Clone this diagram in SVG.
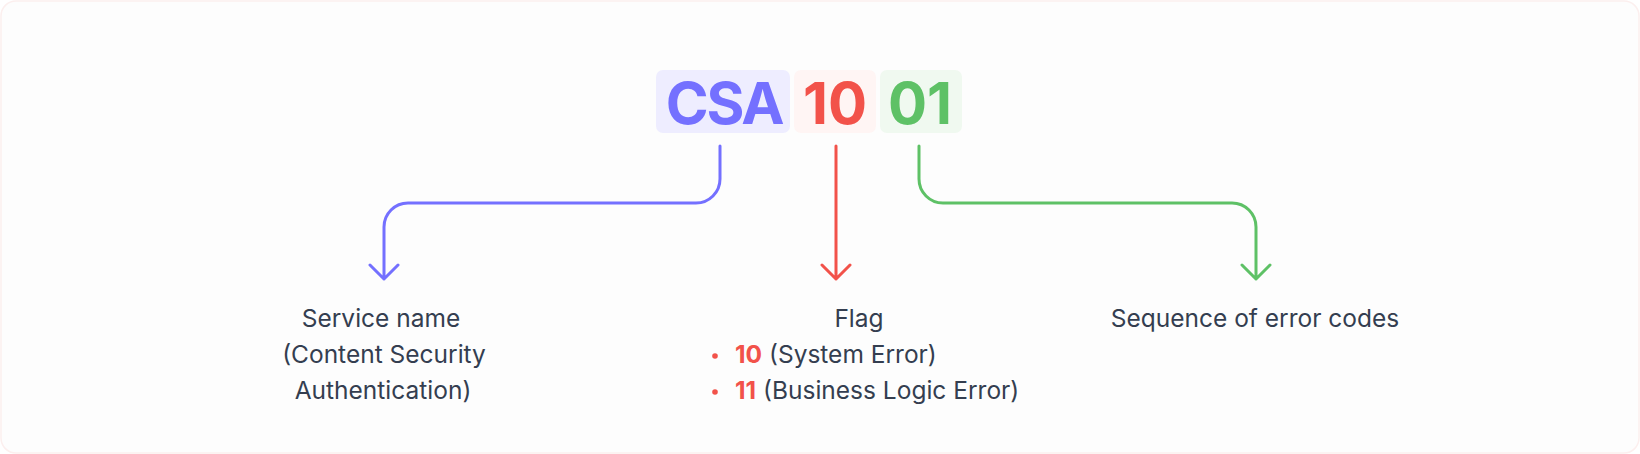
<svg xmlns="http://www.w3.org/2000/svg" width="1640" height="454" viewBox="0 0 1640 454">
<style>
.t{font-family:Inter,"Noto Sans","Liberation Sans",sans-serif;font-size:24.5px;fill:#343e50}
.big{font-family:Inter,"Noto Sans","Liberation Sans",sans-serif;font-size:58px;font-weight:700;text-anchor:middle}
.c{fill:none;stroke-width:3;stroke-linecap:round;stroke-linejoin:round}
.red{fill:#f2524a;font-weight:700}
</style>
<rect x="1" y="1" width="1638" height="452" rx="15" fill="#fdfdfd" stroke="#fcefee" stroke-width="1.5"/>
<g id="csa">
<rect x="656" y="70" width="134" height="63" rx="7" fill="#eeedff"/>
<text class="big" x="724" y="124" fill="#7470ff" letter-spacing="-2.3">CSA</text>
</g>
<g id="flag-code">
<rect x="794" y="70" width="82" height="63" rx="7" fill="#fff5f4"/>
<text class="big" x="835" y="124" fill="#f2524a">10</text>
</g>
<g id="seq-code">
<rect x="880" y="70" width="82" height="63" rx="7" fill="#f0f9f0"/>
<text class="big" x="920" y="124" fill="#5ec166">01</text>
</g>
<g id="connectors">
<path class="c" stroke="#7470ff" d="M720 146 V179 A24 24 0 0 1 696 203 H408 A24 24 0 0 0 384 227 V279 M370 265 L384 279 L398 265"/>
<path class="c" stroke="#f2524a" d="M836 146 V279 M822 265 L836 279 L850 265"/>
<path class="c" stroke="#5ec166" d="M919 146 V179 A24 24 0 0 0 943 203 H1232 A24 24 0 0 1 1256 227 V279 M1242 265 L1256 279 L1270 265"/>
</g>
<g id="service-label">
<text class="t" text-anchor="middle"><tspan x="381" y="327">Service name</tspan><tspan x="384" y="363">(Content Security</tspan><tspan x="383" y="399">Authentication)</tspan></text>
</g>
<g id="flag-label">
<text class="t" x="859" y="327" text-anchor="middle">Flag</text>
<circle cx="715" cy="356" r="2.8" fill="#f2524a"/>
<text class="t" x="735" y="363"><tspan class="red">10</tspan> (System Error)</text>
<circle cx="715" cy="392" r="2.8" fill="#f2524a"/>
<text class="t" x="735" y="399"><tspan class="red">11</tspan> (Business Logic Error)</text>
</g>
<g id="sequence-label">
<text class="t" x="1255" y="327" text-anchor="middle">Sequence of error codes</text>
</g>
</svg>
